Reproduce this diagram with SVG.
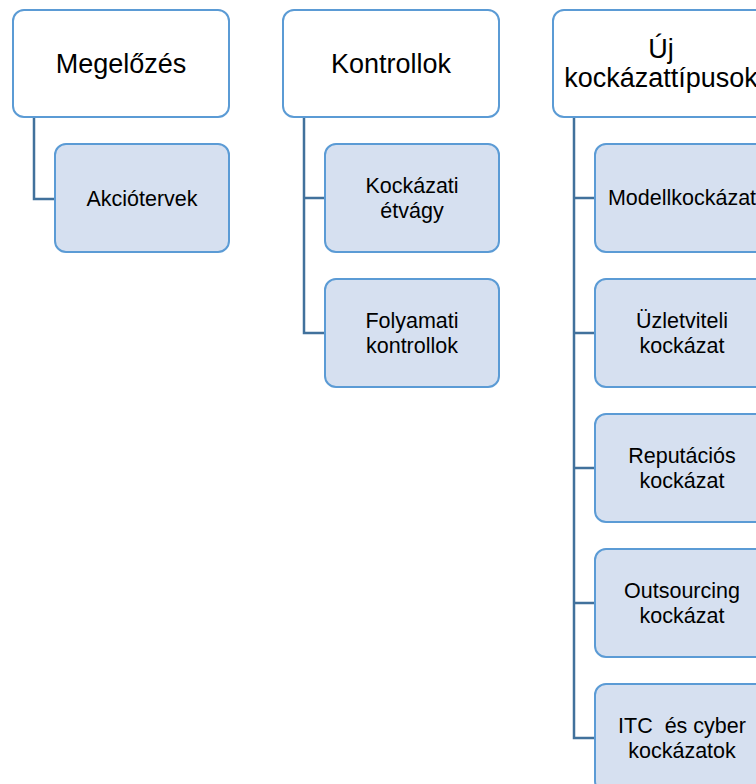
<svg xmlns="http://www.w3.org/2000/svg" width="756" height="784" viewBox="0 0 756 784">
<style>
.top{fill:#ffffff;stroke:#5b9bd5;stroke-width:2}
.child{fill:#d6e0f0;stroke:#5b9bd5;stroke-width:2}
.conn{fill:none;stroke:#41719c;stroke-width:2.5}
.t1{font-family:"Liberation Sans",Arial,sans-serif;font-size:27px;fill:#000;text-anchor:middle}
.t2{font-family:"Liberation Sans",Arial,sans-serif;font-size:21.5px;fill:#000;text-anchor:middle;white-space:pre}
</style>
<rect width="756" height="784" fill="#ffffff"/>
<g id="connectors">
<path class="conn" d="M34,117 V199 H55"/>
<path class="conn" d="M304,117 V333 H325 M304,198 H325"/>
<path class="conn" d="M574,117 V738 H595 M574,198 H595 M574,333 H595 M574,468 H595 M574,603 H595"/>
</g>
<g id="megelozes">
<rect class="top" x="13" y="10" width="216" height="107" rx="11"/>
<text class="t1" x="121" y="73">Megelőzés</text>
</g>
<g id="akciotervek">
<rect class="child" x="55" y="144" width="174" height="108" rx="11"/>
<text class="t2" x="142" y="206">Akciótervek</text>
</g>
<g id="kontrollok">
<rect class="top" x="283" y="10" width="216" height="107" rx="11"/>
<text class="t1" x="391" y="73">Kontrollok</text>
</g>
<g id="kockazati-etvagy">
<rect class="child" x="325" y="144" width="174" height="108" rx="11"/>
<text class="t2" x="412" y="193">Kockázati</text>
<text class="t2" x="412" y="218">étvágy</text>
</g>
<g id="folyamati-kontrollok">
<rect class="child" x="325" y="279" width="174" height="108" rx="11"/>
<text class="t2" x="412" y="328">Folyamati</text>
<text class="t2" x="412" y="353">kontrollok</text>
</g>
<g id="uj-kockazattipusok">
<rect class="top" x="553" y="10" width="216" height="107" rx="11"/>
<text class="t1" x="661" y="58">Új</text>
<text class="t1" x="661" y="87">kockázattípusok</text>
</g>
<g id="modellkockazat">
<rect class="child" x="595" y="144" width="174" height="108" rx="11"/>
<text class="t2" x="682" y="205">Modellkockázat</text>
</g>
<g id="uzletviteli-kockazat">
<rect class="child" x="595" y="279" width="174" height="108" rx="11"/>
<text class="t2" x="682" y="328">Üzletviteli</text>
<text class="t2" x="682" y="353">kockázat</text>
</g>
<g id="reputacios-kockazat">
<rect class="child" x="595" y="414" width="174" height="108" rx="11"/>
<text class="t2" x="682" y="463">Reputációs</text>
<text class="t2" x="682" y="488">kockázat</text>
</g>
<g id="outsourcing-kockazat">
<rect class="child" x="595" y="549" width="174" height="108" rx="11"/>
<text class="t2" x="682" y="598">Outsourcing</text>
<text class="t2" x="682" y="623">kockázat</text>
</g>
<g id="itc-cyber">
<rect class="child" x="595" y="684" width="174" height="108" rx="11"/>
<text class="t2" x="682" y="733">ITC  és cyber</text>
<text class="t2" x="682" y="758">kockázatok</text>
</g>
</svg>
